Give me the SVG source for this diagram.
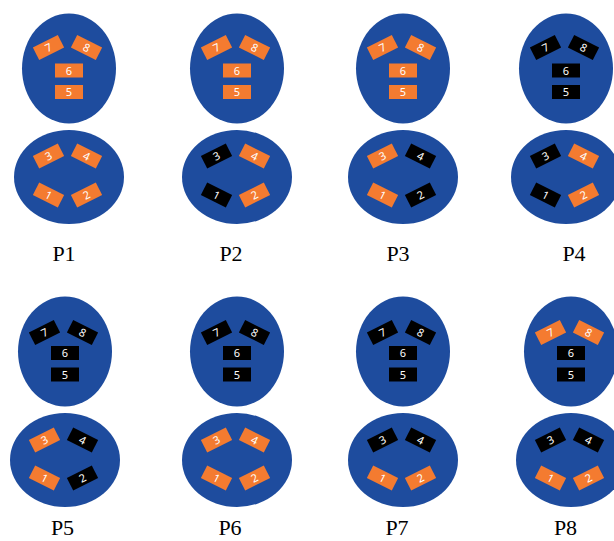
<svg xmlns="http://www.w3.org/2000/svg" width="614" height="541" viewBox="0 0 614 541">
<style>
.head{fill:#1E4C9E}
.o{fill:#F47B30}
.b{fill:#000000}
.n text{fill:#ffffff;font-family:"Noto Sans","DejaVu Sans",sans-serif;font-size:11px;text-anchor:middle}
.lbl{fill:#000;font-family:"Liberation Serif","Times New Roman",serif;font-size:22px;text-anchor:middle}
</style>
<defs>
<rect id="r" x="-14" y="-7" width="28" height="14"/>
</defs>
<rect width="614" height="541" fill="#ffffff"/>

<g id="P1" transform="translate(69,68.5)">
<ellipse class="head" cx="0" cy="0" rx="47" ry="55"/>
<ellipse class="head" cx="0" cy="108.5" rx="55" ry="47"/>
<g id="P1-7" class="n o" transform="translate(-20.5,-21) rotate(-27)"><use href="#r"/><text y="4">7</text></g>
<g id="P1-8" class="n o" transform="translate(17.5,-21) rotate(27)"><use href="#r"/><text y="4">8</text></g>
<g id="P1-6" class="n o" transform="translate(0,2)"><use href="#r"/><text y="4">6</text></g>
<g id="P1-5" class="n o" transform="translate(0,23.5)"><use href="#r"/><text y="4">5</text></g>
<g id="P1-3" class="n o" transform="translate(-20.5,87.5) rotate(-27)"><use href="#r"/><text y="4">3</text></g>
<g id="P1-4" class="n o" transform="translate(17.5,87.5) rotate(27)"><use href="#r"/><text y="4">4</text></g>
<g id="P1-1" class="n o" transform="translate(-20.5,126.5) rotate(27)"><use href="#r"/><text y="4">1</text></g>
<g id="P1-2" class="n o" transform="translate(17.5,126.5) rotate(-27)"><use href="#r"/><text y="4">2</text></g>
</g>

<g id="P2" transform="translate(237,68.5)">
<ellipse class="head" cx="0" cy="0" rx="47" ry="55"/>
<ellipse class="head" cx="0" cy="108.5" rx="55" ry="47"/>
<g id="P2-7" class="n o" transform="translate(-20.5,-21) rotate(-27)"><use href="#r"/><text y="4">7</text></g>
<g id="P2-8" class="n o" transform="translate(17.5,-21) rotate(27)"><use href="#r"/><text y="4">8</text></g>
<g id="P2-6" class="n o" transform="translate(0,2)"><use href="#r"/><text y="4">6</text></g>
<g id="P2-5" class="n o" transform="translate(0,23.5)"><use href="#r"/><text y="4">5</text></g>
<g id="P2-3" class="n b" transform="translate(-20.5,87.5) rotate(-27)"><use href="#r"/><text y="4">3</text></g>
<g id="P2-4" class="n o" transform="translate(17.5,87.5) rotate(27)"><use href="#r"/><text y="4">4</text></g>
<g id="P2-1" class="n b" transform="translate(-20.5,126.5) rotate(27)"><use href="#r"/><text y="4">1</text></g>
<g id="P2-2" class="n o" transform="translate(17.5,126.5) rotate(-27)"><use href="#r"/><text y="4">2</text></g>
</g>

<g id="P3" transform="translate(403,68.5)">
<ellipse class="head" cx="0" cy="0" rx="47" ry="55"/>
<ellipse class="head" cx="0" cy="108.5" rx="55" ry="47"/>
<g id="P3-7" class="n o" transform="translate(-20.5,-21) rotate(-27)"><use href="#r"/><text y="4">7</text></g>
<g id="P3-8" class="n o" transform="translate(17.5,-21) rotate(27)"><use href="#r"/><text y="4">8</text></g>
<g id="P3-6" class="n o" transform="translate(0,2)"><use href="#r"/><text y="4">6</text></g>
<g id="P3-5" class="n o" transform="translate(0,23.5)"><use href="#r"/><text y="4">5</text></g>
<g id="P3-3" class="n o" transform="translate(-20.5,87.5) rotate(-27)"><use href="#r"/><text y="4">3</text></g>
<g id="P3-4" class="n b" transform="translate(17.5,87.5) rotate(27)"><use href="#r"/><text y="4">4</text></g>
<g id="P3-1" class="n o" transform="translate(-20.5,126.5) rotate(27)"><use href="#r"/><text y="4">1</text></g>
<g id="P3-2" class="n b" transform="translate(17.5,126.5) rotate(-27)"><use href="#r"/><text y="4">2</text></g>
</g>

<g id="P4" transform="translate(566,68.5)">
<ellipse class="head" cx="0" cy="0" rx="47" ry="55"/>
<ellipse class="head" cx="0" cy="108.5" rx="55" ry="47"/>
<g id="P4-7" class="n b" transform="translate(-20.5,-21) rotate(-27)"><use href="#r"/><text y="4">7</text></g>
<g id="P4-8" class="n b" transform="translate(17.5,-21) rotate(27)"><use href="#r"/><text y="4">8</text></g>
<g id="P4-6" class="n b" transform="translate(0,2)"><use href="#r"/><text y="4">6</text></g>
<g id="P4-5" class="n b" transform="translate(0,23.5)"><use href="#r"/><text y="4">5</text></g>
<g id="P4-3" class="n b" transform="translate(-20.5,87.5) rotate(-27)"><use href="#r"/><text y="4">3</text></g>
<g id="P4-4" class="n o" transform="translate(17.5,87.5) rotate(27)"><use href="#r"/><text y="4">4</text></g>
<g id="P4-1" class="n b" transform="translate(-20.5,126.5) rotate(27)"><use href="#r"/><text y="4">1</text></g>
<g id="P4-2" class="n o" transform="translate(17.5,126.5) rotate(-27)"><use href="#r"/><text y="4">2</text></g>
</g>

<g id="P5" transform="translate(65,351.5)">
<ellipse class="head" cx="0" cy="0" rx="47" ry="55"/>
<ellipse class="head" cx="0" cy="108.5" rx="55" ry="47"/>
<g id="P5-7" class="n b" transform="translate(-20.5,-19) rotate(-27)"><use href="#r"/><text y="4">7</text></g>
<g id="P5-8" class="n b" transform="translate(17.5,-19) rotate(27)"><use href="#r"/><text y="4">8</text></g>
<g id="P5-6" class="n b" transform="translate(0,1.5)"><use href="#r"/><text y="4">6</text></g>
<g id="P5-5" class="n b" transform="translate(0,23)"><use href="#r"/><text y="4">5</text></g>
<g id="P5-3" class="n o" transform="translate(-20.5,88.5) rotate(-27)"><use href="#r"/><text y="4">3</text></g>
<g id="P5-4" class="n b" transform="translate(17.5,88.5) rotate(27)"><use href="#r"/><text y="4">4</text></g>
<g id="P5-1" class="n o" transform="translate(-20.5,126.5) rotate(27)"><use href="#r"/><text y="4">1</text></g>
<g id="P5-2" class="n b" transform="translate(17.5,126.5) rotate(-27)"><use href="#r"/><text y="4">2</text></g>
</g>

<g id="P6" transform="translate(237,351.5)">
<ellipse class="head" cx="0" cy="0" rx="47" ry="55"/>
<ellipse class="head" cx="0" cy="108.5" rx="55" ry="47"/>
<g id="P6-7" class="n b" transform="translate(-20.5,-19) rotate(-27)"><use href="#r"/><text y="4">7</text></g>
<g id="P6-8" class="n b" transform="translate(17.5,-19) rotate(27)"><use href="#r"/><text y="4">8</text></g>
<g id="P6-6" class="n b" transform="translate(0,1.5)"><use href="#r"/><text y="4">6</text></g>
<g id="P6-5" class="n b" transform="translate(0,23)"><use href="#r"/><text y="4">5</text></g>
<g id="P6-3" class="n o" transform="translate(-20.5,88.5) rotate(-27)"><use href="#r"/><text y="4">3</text></g>
<g id="P6-4" class="n o" transform="translate(17.5,88.5) rotate(27)"><use href="#r"/><text y="4">4</text></g>
<g id="P6-1" class="n o" transform="translate(-20.5,126.5) rotate(27)"><use href="#r"/><text y="4">1</text></g>
<g id="P6-2" class="n o" transform="translate(17.5,126.5) rotate(-27)"><use href="#r"/><text y="4">2</text></g>
</g>

<g id="P7" transform="translate(403,351.5)">
<ellipse class="head" cx="0" cy="0" rx="47" ry="55"/>
<ellipse class="head" cx="0" cy="108.5" rx="55" ry="47"/>
<g id="P7-7" class="n b" transform="translate(-20.5,-19) rotate(-27)"><use href="#r"/><text y="4">7</text></g>
<g id="P7-8" class="n b" transform="translate(17.5,-19) rotate(27)"><use href="#r"/><text y="4">8</text></g>
<g id="P7-6" class="n b" transform="translate(0,1.5)"><use href="#r"/><text y="4">6</text></g>
<g id="P7-5" class="n b" transform="translate(0,23)"><use href="#r"/><text y="4">5</text></g>
<g id="P7-3" class="n b" transform="translate(-20.5,88.5) rotate(-27)"><use href="#r"/><text y="4">3</text></g>
<g id="P7-4" class="n b" transform="translate(17.5,88.5) rotate(27)"><use href="#r"/><text y="4">4</text></g>
<g id="P7-1" class="n o" transform="translate(-20.5,126.5) rotate(27)"><use href="#r"/><text y="4">1</text></g>
<g id="P7-2" class="n o" transform="translate(17.5,126.5) rotate(-27)"><use href="#r"/><text y="4">2</text></g>
</g>

<g id="P8" transform="translate(571,351.5)">
<ellipse class="head" cx="0" cy="0" rx="47" ry="55"/>
<ellipse class="head" cx="0" cy="108.5" rx="55" ry="47"/>
<g id="P8-7" class="n o" transform="translate(-20.5,-19) rotate(-27)"><use href="#r"/><text y="4">7</text></g>
<g id="P8-8" class="n o" transform="translate(17.5,-19) rotate(27)"><use href="#r"/><text y="4">8</text></g>
<g id="P8-6" class="n b" transform="translate(0,1.5)"><use href="#r"/><text y="4">6</text></g>
<g id="P8-5" class="n b" transform="translate(0,23)"><use href="#r"/><text y="4">5</text></g>
<g id="P8-3" class="n b" transform="translate(-20.5,88.5) rotate(-27)"><use href="#r"/><text y="4">3</text></g>
<g id="P8-4" class="n b" transform="translate(17.5,88.5) rotate(27)"><use href="#r"/><text y="4">4</text></g>
<g id="P8-1" class="n o" transform="translate(-20.5,126.5) rotate(27)"><use href="#r"/><text y="4">1</text></g>
<g id="P8-2" class="n o" transform="translate(17.5,126.5) rotate(-27)"><use href="#r"/><text y="4">2</text></g>
</g>

<g id="labels">
<text class="lbl" x="64" y="261">P1</text>
<text class="lbl" x="231" y="261">P2</text>
<text class="lbl" x="398" y="261">P3</text>
<text class="lbl" x="574" y="261">P4</text>
<text class="lbl" x="62.5" y="535">P5</text>
<text class="lbl" x="230" y="535">P6</text>
<text class="lbl" x="397" y="535">P7</text>
<text class="lbl" x="565.5" y="535">P8</text>
</g>
</svg>
